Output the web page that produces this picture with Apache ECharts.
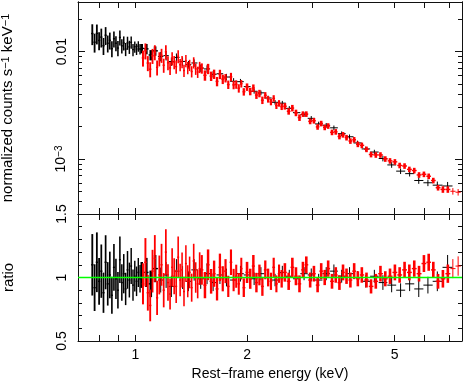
<!DOCTYPE html>
<html>
<head>
<meta charset="utf-8">
<script src="https://cdn.jsdelivr.net/npm/echarts@6/dist/echarts.min.js"></script>
<style>
  html, body { margin: 0; padding: 0; background: #fff; }
  #chart { width: 463px; height: 382px; }
</style>
</head>
<body>
<div id="chart"></div>
<script>
// black spectrum: bin energy (keV), normalized counts, data/model ratio, error (%)
const blackEnergy = [
  0.765, 0.776, 0.787, 0.798, 0.809, 0.820, 0.831, 0.842, 0.853, 0.864, 0.875, 0.886, 0.897,
  0.908, 0.919, 0.930, 0.941, 0.952, 0.963, 0.974, 0.985, 0.996, 1.007, 1.018, 1.029, 1.040,
  1.07, 1.10, 1.13, 1.17, 1.21, 1.25, 1.29, 1.34, 1.39, 1.44, 1.50, 1.56, 1.62, 1.69, 1.76, 1.84, 1.92,
  2.00, 2.09, 2.18, 2.28, 2.38, 2.49, 2.60, 2.72, 2.85, 2.98, 3.12, 3.27, 3.43, 3.60, 3.78, 3.97,
  4.18, 4.41, 4.65, 4.91, 5.19, 5.49, 5.81, 6.15, 6.52, 6.95
];
const blackCounts = [
  0.01474, 0.01224, 0.01478, 0.01271, 0.01365, 0.01135, 0.01422, 0.01197, 0.01275, 0.01066, 0.01318, 0.01198, 0.01080,
  0.01357, 0.01133, 0.01205, 0.01056, 0.01208, 0.01107, 0.01221, 0.01043, 0.01111, 0.01057, 0.01123, 0.01059, 0.01071,
  0.01061, 0.00931, 0.01017, 0.00902, 0.00918, 0.00809, 0.00882, 0.00810, 0.00757, 0.00784, 0.00703, 0.00690, 0.00614,
  0.00622, 0.00580, 0.00529, 0.00525,
  0.00472, 0.00427, 0.00413, 0.00370, 0.00337, 0.00331, 0.00296, 0.00270, 0.00259, 0.00239, 0.00212, 0.00206, 0.00195,
  0.00172, 0.00161, 0.00141,
  0.00124, 0.00116, 0.00101, 0.00088, 0.00077, 0.00073, 0.00063, 0.00060, 0.00057, 0.00056
];
const blackRatio = [
  1.10, 0.92, 1.12, 0.97, 1.05, 0.88, 1.12, 0.95, 1.02, 0.86, 1.08, 0.99, 0.90,
  1.14, 0.96, 1.03, 0.91, 1.06, 0.98, 1.09, 0.94, 1.01, 0.97, 1.04, 0.99, 1.02,
  1.04, 0.95, 1.07, 0.98, 1.02, 0.93, 1.05, 1.00, 0.97, 1.06, 0.99, 1.03, 0.96, 1.02, 1.00, 0.98, 1.03,
  1.02, 0.99, 1.03, 1.00, 0.98, 1.04, 1.01, 0.99, 1.03, 1.02, 0.98, 1.03, 1.05, 1.01, 1.03, 1.00,
  0.97, 1.01, 0.96, 0.94, 0.90, 0.95, 0.91, 0.94, 0.97, 1.08
];
const blackErr = [
  22, 20, 21, 19, 20, 18, 19, 18, 18, 17, 17, 16, 16,
  16, 15, 15, 14, 14, 14, 13, 13, 12, 12, 11, 11, 10,
  11, 11, 10, 10, 10, 9, 9, 9, 8, 8, 8, 8, 7, 7, 7, 7, 6,
  5, 5, 5, 5, 5, 5, 5, 5, 5, 5, 5, 5, 5, 5, 5, 5,
  5, 5, 6, 6, 6, 6, 7, 7, 8, 9
];

// red spectrum
const redEnergy = [
  1.048, 1.064, 1.080, 1.096, 1.112, 1.128, 1.144, 1.160, 1.176, 1.192, 1.208, 1.224, 1.240, 1.256,
  1.272, 1.288, 1.304, 1.320, 1.336, 1.352, 1.368, 1.384, 1.400, 1.418, 1.436, 1.454, 1.472, 1.490,
  1.51, 1.54, 1.57, 1.60, 1.63, 1.66, 1.69, 1.72, 1.75, 1.78, 1.81, 1.84, 1.87, 1.90, 1.93,
  1.96, 2.00, 2.04, 2.08, 2.12, 2.16, 2.20, 2.24, 2.28, 2.32, 2.36, 2.40, 2.44, 2.48,
  2.53, 2.59, 2.65, 2.71, 2.77, 2.83, 2.89, 2.96, 3.03, 3.10, 3.17, 3.24, 3.31, 3.39,
  3.47, 3.55, 3.63, 3.71, 3.80, 3.89, 3.98,
  4.08, 4.20, 4.32, 4.45, 4.58, 4.72, 4.86, 5.01, 5.16, 5.32, 5.48, 5.65, 5.82, 6.00,
  6.18, 6.36, 6.55, 6.75, 6.96, 7.18, 7.42
];
const redCounts = [
  0.00874, 0.01019, 0.00783, 0.00686, 0.00914, 0.00989, 0.00714, 0.00857, 0.00924, 0.00747, 0.00996, 0.00787, 0.00705, 0.00864,
  0.00798, 0.00725, 0.00905, 0.00755, 0.00806, 0.00668, 0.00821, 0.00708, 0.00749, 0.00653, 0.00791, 0.00690, 0.00646, 0.00717,
  0.00700, 0.00602, 0.00693, 0.00592, 0.00618, 0.00528, 0.00616, 0.00554, 0.00567, 0.00493, 0.00582, 0.00490, 0.00495, 0.00456, 0.00503,
  0.00423, 0.00468, 0.00426, 0.00458, 0.00394, 0.00408, 0.00353, 0.00392, 0.00360, 0.00340, 0.00367, 0.00314, 0.00330, 0.00307,
  0.00310, 0.00278, 0.00298, 0.00269, 0.00243, 0.00262, 0.00262, 0.00224, 0.00227, 0.00199, 0.00214, 0.00197, 0.00203, 0.00177,
  0.00179, 0.00162, 0.00168, 0.00158, 0.00147, 0.00151, 0.00137,
  0.00134, 0.00123, 0.00110, 0.00109, 0.00109, 0.00100, 0.00096, 0.00094, 0.00087, 0.00086, 0.00080, 0.00078, 0.00071, 0.00072,
  0.00069, 0.00063, 0.00054, 0.00052, 0.00052, 0.00050, 0.00049
];
const redRatio = [
  0.95, 1.12, 0.88, 0.78, 1.05, 1.15, 0.84, 1.02, 1.10, 0.90, 1.20, 0.96, 0.87, 1.08,
  1.01, 0.93, 1.16, 0.98, 1.06, 0.89, 1.11, 0.97, 1.04, 0.92, 1.13, 1.00, 0.95, 1.07,
  1.06, 0.94, 1.10, 0.97, 1.03, 0.91, 1.08, 0.99, 1.05, 0.93, 1.12, 0.98, 1.01, 0.95, 1.07,
  0.92, 1.04, 0.99, 1.09, 0.96, 1.02, 0.93, 1.06, 1.00, 0.97, 1.08, 0.95, 1.03, 0.99,
  1.04, 0.97, 1.08, 1.01, 0.95, 1.06, 1.10, 0.98, 1.03, 0.94, 1.05, 1.00, 1.07, 0.97,
  1.02, 0.96, 1.04, 1.01, 0.98, 1.05, 0.99,
  1.02, 0.98, 0.93, 0.97, 1.03, 0.99, 1.01, 1.04, 1.02, 1.06, 1.04, 1.07, 1.03, 1.11,
  1.12, 1.06, 0.97, 0.99, 1.03, 1.07, 1.09
];
const redErr = [
  17, 17, 16, 16, 16, 16, 16, 15, 15, 15, 15, 15, 14, 14,
  14, 14, 14, 13, 13, 13, 13, 13, 12, 12, 12, 12, 12, 12,
  11, 11, 11, 10, 10, 10, 10, 10, 9, 9, 9, 9, 9, 9, 8,
  8, 8, 8, 8, 8, 8, 8, 7, 7, 7, 7, 7, 7, 7,
  7, 7, 7, 7, 7, 6, 6, 6, 6, 6, 6, 6, 6, 6,
  6, 6, 6, 6, 6, 6, 6,
  6, 6, 6, 6, 6, 6, 6, 6, 6, 6, 6, 6, 6, 6,
  6, 6, 6, 7, 7, 7, 7
];

// ticks and labels
const energyTicks = [0.8, 0.9, 1, 2, 3, 4, 5, 6, 7];
const energyLabels = [1, 2, 5];
const energyRange = [0.7, 7.6];
const countMajorTicks = [0.001, 0.01];
const countMinorTicks = [0.0004, 0.0005, 0.0006, 0.0007, 0.0008, 0.0009,
  0.002, 0.003, 0.004, 0.005, 0.006, 0.007, 0.008, 0.009, 0.02];
const ratioTicks = [0.6, 0.7, 0.8, 0.9, 1, 1.1, 1.2, 1.3, 1.4];
const ratioLabels = [0.5, 1, 1.5];
const ratioRef = 1;

const FONT = 'Liberation Sans, Arial, Helvetica, sans-serif';
const AXIS_COLOR = '#111';

// bin edges halfway to the neighbours
const buildBins = (energy, values, err) => energy.map((e, i) => {
  const prev = i > 0 ? energy[i - 1] : e - (energy[i + 1] - e);
  const next = i < energy.length - 1 ? energy[i + 1] : e + (e - energy[i - 1]);
  return [e, values[i], err[i] / 100, (prev + e) / 2, (e + next) / 2];
});

// horizontal bin line + vertical error bar (thicker where bins are packed tight)
const binRenderer = color => (params, api) => {
  const e = api.value(0), v = api.value(1), r = api.value(2);
  const a = api.coord([api.value(3), v]);
  const b = api.coord([api.value(4), v]);
  const t = api.coord([e, v * (1 + r)]);
  const d = api.coord([e, v * (1 - r)]);
  const w = b[0] - a[0];
  const barWidth = w < 5 ? Math.min(2.6, Math.max(1, w * 0.8)) : 1;
  return {
    type: 'group',
    children: [
      { type: 'line', shape: { x1: a[0], y1: a[1], x2: b[0], y2: b[1] }, style: { stroke: color, lineWidth: w < 5 ? 1.4 : 1 } },
      { type: 'line', shape: { x1: t[0], y1: t[1], x2: d[0], y2: d[1] }, style: { stroke: color, lineWidth: barWidth } }
    ]
  };
};

const axisLine = { show: true, lineStyle: { color: AXIS_COLOR, width: 1 } };
const labelStyle = { color: '#000', fontFamily: FONT, fontSize: 14 };
const supRich = {
  b: { fontFamily: FONT, fontSize: 14, color: '#000' },
  s: { fontFamily: FONT, fontSize: 10, color: '#000', verticalAlign: 'top', padding: [0, 0, 5, 0] }
};

const energyAxis = (grid, position, withLabels, extra) => Object.assign({
  type: 'log', gridIndex: grid, position, min: energyRange[0], max: energyRange[1],
  axisLine, splitLine: { show: false },
  axisTick: { inside: true, length: 6, customValues: energyTicks, lineStyle: { color: AXIS_COLOR } },
  axisLabel: withLabels
    ? Object.assign({ customValues: energyLabels, margin: 7, formatter: v => String(+(+v).toFixed(2)) }, labelStyle)
    : { show: false }
}, extra || {});

const countAxis = (position, ticks, len, withLabels, extra) => Object.assign({
  type: 'log', gridIndex: 0, position, min: 3.07e-4, max: 0.029,
  axisLine, splitLine: { show: false },
  axisTick: { inside: true, length: len, customValues: ticks, lineStyle: { color: AXIS_COLOR } },
  axisLabel: withLabels
    ? Object.assign({
        customValues: countMajorTicks, rotate: 90, margin: 9, rich: supRich,
        formatter: v => (v > 0.005 ? '0.01' : '{b|10}{s|−3}')
      }, labelStyle)
    : { show: false }
}, extra || {});

const ratioAxis = (position, withLabels, extra) => Object.assign({
  type: 'value', gridIndex: 1, position, min: 0.5, max: 1.5,
  axisLine, splitLine: { show: false },
  axisTick: { inside: true, length: 4, customValues: ratioTicks.concat(ratioLabels), lineStyle: { color: AXIS_COLOR } },
  axisLabel: withLabels
    ? Object.assign({ customValues: ratioLabels, rotate: 90, margin: 9, formatter: v => String(+(+v).toFixed(1)) }, labelStyle)
    : { show: false }
}, extra || {});

const chart = echarts.init(document.getElementById('chart'));

const option = {
  animation: false,
  backgroundColor: '#fff',
  grid: [
    { left: 78, right: 1, top: 2, height: 212, outerBoundsMode: 'none', containLabel: false },
    { left: 78, right: 1, top: 214, height: 127, outerBoundsMode: 'none', containLabel: false }
  ],
  xAxis: [
    energyAxis(0, 'bottom', false),
    energyAxis(0, 'top', false),
    energyAxis(1, 'bottom', true, {
      name: 'Rest−frame energy (keV)', nameLocation: 'middle', nameGap: 26,
      nameTextStyle: labelStyle
    }),
    energyAxis(1, 'top', false)
  ],
  yAxis: [
    countAxis('left', countMajorTicks, 7, true, {
      name: '{a|normalized counts s}{s|−1}{a| keV}{s|−1}', nameLocation: 'middle', nameGap: 62,
      nameTextStyle: Object.assign({}, labelStyle, {
        fontSize: 15,
        rich: {
          a: { fontFamily: FONT, fontSize: 15, color: '#000' },
          s: { fontFamily: FONT, fontSize: 11, color: '#000', verticalAlign: 'top', padding: [0, 0, 5, 0] }
        }
      })
    }),
    countAxis('left', countMinorTicks, 4, false),
    countAxis('right', countMajorTicks, 7, false),
    countAxis('right', countMinorTicks, 4, false),
    ratioAxis('left', true, {
      name: 'ratio', nameLocation: 'middle', nameGap: 62,
      nameTextStyle: Object.assign({}, labelStyle, { fontSize: 15 })
    }),
    ratioAxis('right', false)
  ],
  series: [
    {
      name: 'black counts', type: 'custom', xAxisIndex: 0, yAxisIndex: 0, clip: true, z: 2,
      renderItem: binRenderer('#000'), encode: { x: 0, y: 1 },
      data: buildBins(blackEnergy, blackCounts, blackErr)
    },
    {
      name: 'red counts', type: 'custom', xAxisIndex: 0, yAxisIndex: 0, clip: true, z: 3,
      renderItem: binRenderer('#ff0000'), encode: { x: 0, y: 1 },
      data: buildBins(redEnergy, redCounts, redErr)
    },
    {
      name: 'black ratio', type: 'custom', xAxisIndex: 2, yAxisIndex: 4, clip: true, z: 2,
      renderItem: binRenderer('#000'), encode: { x: 0, y: 1 },
      data: buildBins(blackEnergy, blackRatio, blackErr)
    },
    {
      name: 'red ratio', type: 'custom', xAxisIndex: 2, yAxisIndex: 4, clip: true, z: 3,
      renderItem: binRenderer('#ff0000'), encode: { x: 0, y: 1 },
      data: buildBins(redEnergy, redRatio, redErr)
    },
    {
      name: 'unity', type: 'line', xAxisIndex: 2, yAxisIndex: 4, z: 10,
      symbol: 'none', silent: true,
      lineStyle: { color: '#00ff00', width: 1.5, opacity: 1 },
      data: energyRange.map(e => [e, ratioRef])
    }
  ]
};

chart.setOption(option);
</script>
</body>
</html>
